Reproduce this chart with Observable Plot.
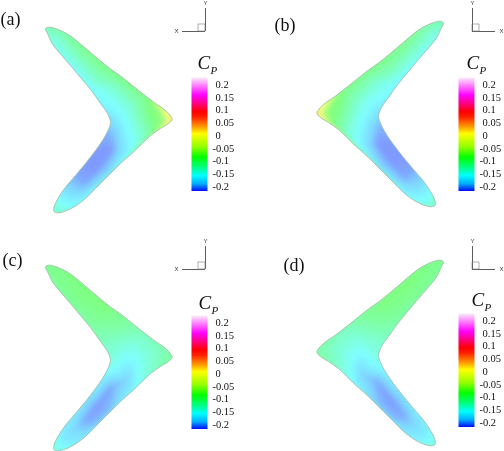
<!DOCTYPE html>
<html><head><meta charset="utf-8">
<script src="https://cdn.jsdelivr.net/npm/d3@7"></script>
<script src="https://cdn.jsdelivr.net/npm/@observablehq/plot@0.6"></script>
<style>html,body{margin:0;padding:0;background:#fff;}#chart{position:relative;width:504px;height:451px;overflow:hidden;filter:blur(.35px);}#chart svg{position:absolute;background:transparent;}</style>
</head><body><div id="chart"></div>
<script>
// Wing outline (reference wing = panel a)
const outlineX=[45,47,50,60,70,80,90,100,110,120,127,140,153,165,170.5,171.7,168,160,150,141.7,133,125,115,105,95,85,75,65,57,53.5,53.5,58,65,75,85,95,102,107,110,107,100,90,80,70,60,52,47];
const outlineY=[28.5,27,26.7,30,35.5,43.5,52,60.5,68.5,75.5,81,91.5,101.5,110,116,119,123,128,135,143,151.5,158.5,168,178,188,198,205.5,210.5,212.3,211,206.5,197,186.7,175,163,150,140,131,122,113,103,89,77,65,53.5,43.5,33];
// Sampled pressure field
const sampleX=[46,52,58,65,70,77,85,90,97,107,100,112,127,110,120,132,145,125,135,150,160,167,171.5,164,152,142,115,107,125,133,96,110,85,97,110,75,85,97,65,73,82,58,63,70,54,62];
const sampleY=[28,43,38,33,65,56,48,89,77,66,103,90,81,122,110,105,95,125,125,115,115,117,119,124,130,138,132,131,142,150,149,150,163,168,173,175,182,186,187,192,200,197,203,208,210,211];
const cpA=[-.125,-.15,-.135,-.11,-.155,-.125,-.095,-.16,-.125,-.09,-.165,-.14,-.095,-.185,-.155,-.13,-.09,-.16,-.14,-.09,-.075,-.03,.03,-.05,-.1,-.135,-.19,-.2,-.17,-.15,-.21,-.21,-.21,-.21,-.18,-.205,-.205,-.175,-.185,-.185,-.165,-.16,-.16,-.15,-.135,-.14];
const cpC=[-.095,-.1,-.095,-.09,-.105,-.09,-.085,-.11,-.095,-.085,-.125,-.11,-.1,-.14,-.14,-.14,-.125,-.165,-.16,-.135,-.125,-.115,-.11,-.115,-.13,-.145,-.16,-.155,-.19,-.165,-.175,-.205,-.18,-.21,-.195,-.175,-.205,-.195,-.17,-.185,-.175,-.165,-.17,-.165,-.145,-.15];
// Colour bar
const cpStops=[-.2196,-.19,-.157,-.124,-.085,-.045,.007,.033,.073,.0925,.158,.204,.2275];
const cpColors=["#0000ff","#00aaff","#00ffff","#00ff80","#00ff00","#90ff00","#ffff00","#ffa000","#ff2000","#ff0000","#ff00ff","#ff99ff","#f8eef8"];
const cpPos=[.2,.15,.1,.05,0];
const cpNeg=[-.05,-.1,-.15,-.2];
// Panels
const panels=[
 {label:"(a)",values:cpA,flip:false,dy:0,lx:0,ly:24,tx:205,ty:31,cx:197,cy:68,bx:190.5,by:77},
 {label:"(b)",values:cpA,flip:true,dy:-6,lx:274,ly:30,tx:472,ty:31,cx:466,cy:68,bx:458,by:77},
 {label:"(c)",values:cpC,flip:false,dy:238,lx:2,ly:265,tx:205,ty:269,cx:198,cy:308,bx:190.5,by:315},
 {label:"(d)",values:cpC,flip:true,dy:233,lx:283,ly:270,tx:472,ty:269,cx:471,cy:305,bx:458,by:313}
];
const color={type:"linear",domain:cpStops,range:cpColors,clamp:true,interpolate:"rgb"};
const px=(p,x)=>p.flip?488-x:x, py=(p,y)=>y+p.dy;

const marks=[];
for(const p of panels){
  const outline=outlineX.map((x,i)=>({x:px(p,x),y:py(p,outlineY[i])}));
  const field=sampleX.map((x,i)=>({x:px(p,x),y:py(p,sampleY[i]),v:p.values[i]}));
  marks.push(Plot.raster(field,{x:"x",y:"y",fill:"v",interpolate:"barycentric",blur:1.5,pixelSize:1,
    x1:p.flip?250:30,x2:p.flip?458:208,y1:py(p,15),y2:py(p,225),opacity:.5,imageRendering:"auto",
    render(index,scales,values,dims,context,next){
      const g=next(index,scales,values,dims,context);
      const id="clip-"+p.label.replace(/\W/g,"");
      const ns="http://www.w3.org/2000/svg";
      const cp=context.document.createElementNS(ns,"clipPath");cp.setAttribute("id",id);
      const path=context.document.createElementNS(ns,"path");
      path.setAttribute("d",d3.line().x(d=>scales.x(d.x)).y(d=>scales.y(d.y)).curve(d3.curveCatmullRomClosed)(outline));
      cp.appendChild(path);g.appendChild(cp);
      g.setAttribute("clip-path",`url(#${id})`);
      return g;
    }}));
  marks.push(Plot.line(outline,{x:"x",y:"y",curve:"catmull-rom-closed",stroke:"#9fbfa8",strokeWidth:.9}));
  marks.push(Plot.text([p.label],{x:p.lx,y:p.ly,text:d=>d,textAnchor:"start",fontFamily:"Liberation Serif",fontSize:18,lineAnchor:"bottom",fill:"#111"}));
  const dir=p.flip?1:-1;
  marks.push(Plot.ruleY([p.ty],{x1:p.tx,x2:p.tx+dir*23,stroke:"#333",strokeWidth:.8}));
  marks.push(Plot.ruleX([p.tx],{y1:p.ty-23,y2:p.ty,stroke:"#333",strokeWidth:.8}));
  marks.push(Plot.rect([p],{x1:p.tx,x2:p.tx+dir*7,y1:p.ty-7,y2:p.ty,stroke:"#777",strokeWidth:.6,fill:"none"}));
  marks.push(Plot.text(["X"],{x:p.tx+dir*29,y:p.ty,text:d=>d,fontFamily:"Liberation Sans",fontSize:6,fill:"#333"}));
  marks.push(Plot.text(["Y"],{x:p.tx,y:p.ty-28,text:d=>d,fontFamily:"Liberation Sans",fontSize:6,fill:"#333"}));
  marks.push(Plot.text(["C"],{x:p.cx,y:p.cy,text:d=>d,textAnchor:"start",lineAnchor:"bottom",fontFamily:"Liberation Serif",fontStyle:"italic",fontSize:19,fill:"#111"}));
  marks.push(Plot.text(["P"],{x:p.cx+13,y:p.cy+5,text:d=>d,textAnchor:"start",lineAnchor:"bottom",fontFamily:"Liberation Serif",fontStyle:"italic",fontSize:11,fill:"#111"}));
}
const main=Plot.plot({width:504,height:451,margin:0,
  x:{domain:[0,504],range:[0,504],axis:null},y:{domain:[0,451],range:[0,451],axis:null},
  color,marks});
const chart=document.getElementById("chart");
main.style.left="0";main.style.top="0";chart.appendChild(main);

for(const p of panels){
  const bar=Plot.plot({width:46,height:114,marginLeft:0,marginRight:30,marginTop:0,marginBottom:0,
    x:{domain:[0,1],axis:null},y:{domain:[-.2196,.2275],axis:null},color,
    style:{fontFamily:"Liberation Serif",fontSize:"10.5px",color:"#111",background:"transparent"},
    marks:[
      Plot.raster({x1:0,x2:1,y1:-.2196,y2:.2275,fill:(x,y)=>y,pixelSize:1}),
      Plot.axisY(cpPos,{anchor:"right",tickSize:0,tickPadding:8,tickFormat:d=>String(d),label:null,textAnchor:"start",fontSize:10.5}),
      Plot.axisY(cpNeg,{anchor:"right",tickSize:0,tickPadding:5,tickFormat:d=>String(d),label:null,textAnchor:"start",fontSize:10.5})
    ]});
  bar.style.left=p.bx+"px";bar.style.top=p.by+"px";chart.appendChild(bar);
}
</script></body></html>
